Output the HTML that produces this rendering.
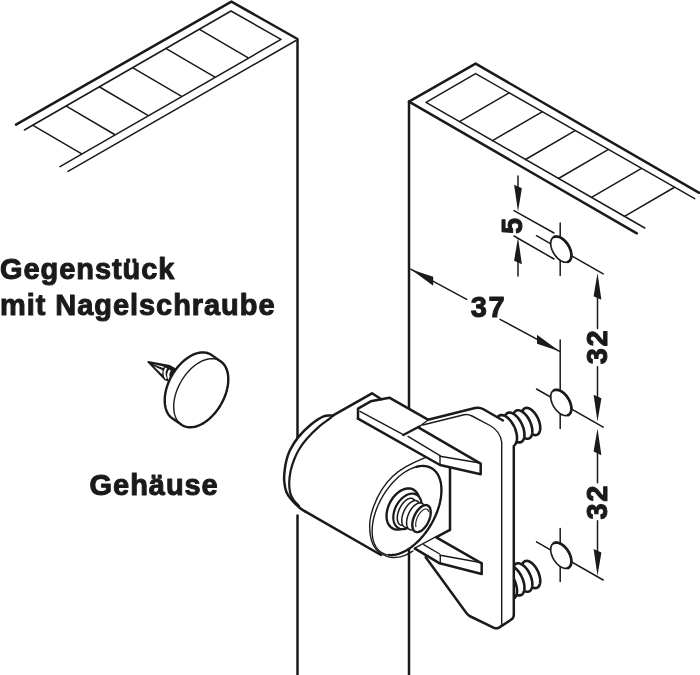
<!DOCTYPE html>
<html><head><meta charset="utf-8"><style>
html,body{margin:0;padding:0;background:#fff;width:700px;height:675px;overflow:hidden}
svg{display:block;will-change:transform}
.l{font-family:"Liberation Sans",sans-serif;font-weight:bold;font-size:29px;letter-spacing:0.95px;fill:#1a1a1a}
.d{font-family:"Liberation Sans",sans-serif;font-weight:bold;font-size:29px;letter-spacing:1.6px;fill:#1a1a1a}
</style></head><body>
<svg width="700" height="675" viewBox="0 0 700 675">
<g stroke="#1a1a1a" fill="none" stroke-linecap="round" stroke-linejoin="round">
<polyline points="16.0,124.6 231.4,1.6 297.5,39.0 297.5,437.6" stroke-width="2.5" fill="none"/>
<line x1="297.5" y1="515.6" x2="297.5" y2="675.0" stroke-width="2.5"/>
<polyline points="24.4,130.0 231.0,11.0 281.0,39.4 60.0,166.6" stroke-width="1.5" fill="none"/>
<line x1="296.0" y1="40.5" x2="68.0" y2="171.4" stroke-width="1.5"/>
<line x1="33.0" y1="125.3" x2="81.3" y2="153.6" stroke-width="1.5"/>
<line x1="66.3" y1="106.2" x2="114.6" y2="134.5" stroke-width="1.5"/>
<line x1="99.6" y1="87.0" x2="147.9" y2="115.3" stroke-width="1.5"/>
<line x1="132.9" y1="67.8" x2="181.2" y2="96.1" stroke-width="1.5"/>
<line x1="166.2" y1="48.6" x2="214.5" y2="76.9" stroke-width="1.5"/>
<line x1="199.5" y1="29.4" x2="247.8" y2="57.7" stroke-width="1.5"/>
<polyline points="409.0,408.5 409.0,101.6 475.6,63.6 699.2,192.8" stroke-width="2.5" fill="none"/>
<line x1="409.0" y1="549.5" x2="409.0" y2="675.0" stroke-width="2.5"/>
<line x1="409.0" y1="101.6" x2="636.8" y2="233.3" stroke-width="2.5"/>
<polyline points="694.7,198.7 475.6,73.6 426.0,102.4 644.8,228.0" stroke-width="1.5" fill="none"/>
<line x1="459.5" y1="121.6" x2="509.1" y2="92.8" stroke-width="1.5"/>
<line x1="492.5" y1="140.6" x2="542.1" y2="111.8" stroke-width="1.5"/>
<line x1="525.5" y1="159.5" x2="575.1" y2="130.7" stroke-width="1.5"/>
<line x1="558.5" y1="178.5" x2="608.1" y2="149.7" stroke-width="1.5"/>
<line x1="591.5" y1="197.4" x2="641.1" y2="168.6" stroke-width="1.5"/>
<line x1="624.5" y1="216.3" x2="674.1" y2="187.5" stroke-width="1.5"/>
<line x1="560.2" y1="223.0" x2="560.2" y2="275.5" stroke-width="1.5"/>
<line x1="536.5" y1="235.7" x2="603.2" y2="273.9" stroke-width="1.5"/>
<path d="M567.95,245.05 L568.47,245.91 L568.94,246.78 L569.38,247.67 L569.77,248.57 L570.13,249.46 L570.43,250.36 L570.70,251.26 L570.91,252.14 L571.08,253.01 L571.20,253.87 L571.27,254.70 L571.28,255.50 L571.25,256.28 L571.17,257.02 L571.04,257.73 L570.86,258.39 L570.63,259.02 L570.36,259.59 L570.04,260.12 L569.67,260.59 L569.26,261.01 L568.82,261.37 L568.33,261.67 L567.81,261.91 L567.26,262.10 L566.67,262.22 L566.06,262.28 L565.42,262.27 L564.76,262.20 L564.09,262.08 L563.39,261.88 L562.69,261.63 L561.98,261.32 L561.26,260.95 L560.54,260.52 L559.83,260.04 L559.12,259.51 L558.42,258.93 L557.73,258.30 L557.06,257.63 L556.40,256.92 L555.77,256.17 L555.17,255.39 L554.59,254.58 L554.05,253.75 L553.53,252.89 L553.06,252.02 L552.62,251.13 L552.23,250.23 L551.87,249.34 L551.57,248.44 L551.30,247.54 L551.09,246.66 L550.92,245.79 L550.80,244.93 L550.73,244.10 L550.72,243.30 L550.75,242.52 L550.83,241.78 L550.96,241.07 L551.14,240.41 L551.37,239.78 L551.64,239.21 L551.96,238.68 L552.33,238.21 L552.74,237.79 L553.18,237.43 L553.67,237.13 L554.19,236.89 L554.74,236.70 L555.33,236.58 L555.94,236.52 L556.58,236.53 L557.24,236.60 L557.91,236.72 L558.61,236.92 L559.31,237.17 L560.02,237.48 L560.74,237.85 L561.46,238.28 L562.17,238.76 L562.88,239.29 L563.58,239.87 L564.27,240.50 L564.94,241.17 L565.60,241.88 L566.23,242.63 L566.83,243.41 L567.41,244.22 L567.95,245.05Z" stroke-width="1.7" fill="#fff" />
<path d="M554.07,236.93 L554.49,236.77 L554.92,236.65 L555.37,236.56 L555.84,236.50 L556.32,236.48 L556.81,236.50 L557.31,236.55 L557.83,236.64 L558.35,236.76 L558.88,236.91 L559.41,237.10 L559.95,237.33 L560.50,237.58 L561.04,237.87 L561.59,238.19 L562.13,238.55 L562.67,238.93 L563.20,239.34 L563.73,239.78 L564.25,240.24 L564.77,240.73 L565.27,241.24 L565.76,241.78 L566.24,242.33 L566.70,242.91 L567.15,243.50 L567.58,244.11 L567.99,244.74 L568.38,245.37 L568.76,246.02 L569.11,246.68 L569.44,247.34 L569.75,248.01 L570.03,248.69 L570.29,249.36 L570.52,250.04 L570.72,250.72 L570.90,251.39 L571.06,252.05 L571.18,252.71 L571.28,253.36 L571.35,254.00 L571.39,254.62 L571.40,255.23 L571.38,255.83 L571.34,256.41 L571.27,256.96 L571.16,257.50 L571.04,258.02 L570.88,258.51 L570.69,258.98 L570.48,259.42 L570.25,259.83 L569.99,260.21 L569.70,260.57 L569.39,260.89 L569.06,261.19 L568.70,261.45 L568.32,261.68 L567.93,261.87" stroke-width="2.7" fill="none" />
<line x1="560.2" y1="339.9" x2="560.2" y2="428.4" stroke-width="1.5"/>
<line x1="536.5" y1="389.0" x2="603.2" y2="427.2" stroke-width="1.5"/>
<path d="M567.95,398.35 L568.47,399.21 L568.94,400.08 L569.38,400.97 L569.77,401.87 L570.13,402.76 L570.43,403.66 L570.70,404.56 L570.91,405.44 L571.08,406.31 L571.20,407.17 L571.27,408.00 L571.28,408.80 L571.25,409.58 L571.17,410.32 L571.04,411.03 L570.86,411.69 L570.63,412.32 L570.36,412.89 L570.04,413.42 L569.67,413.89 L569.26,414.31 L568.82,414.67 L568.33,414.97 L567.81,415.21 L567.26,415.40 L566.67,415.52 L566.06,415.58 L565.42,415.57 L564.76,415.50 L564.09,415.38 L563.39,415.18 L562.69,414.93 L561.98,414.62 L561.26,414.25 L560.54,413.82 L559.83,413.34 L559.12,412.81 L558.42,412.23 L557.73,411.60 L557.06,410.93 L556.40,410.22 L555.77,409.47 L555.17,408.69 L554.59,407.88 L554.05,407.05 L553.53,406.19 L553.06,405.32 L552.62,404.43 L552.23,403.53 L551.87,402.64 L551.57,401.74 L551.30,400.84 L551.09,399.96 L550.92,399.09 L550.80,398.23 L550.73,397.40 L550.72,396.60 L550.75,395.82 L550.83,395.08 L550.96,394.37 L551.14,393.71 L551.37,393.08 L551.64,392.51 L551.96,391.98 L552.33,391.51 L552.74,391.09 L553.18,390.73 L553.67,390.43 L554.19,390.19 L554.74,390.00 L555.33,389.88 L555.94,389.82 L556.58,389.83 L557.24,389.90 L557.91,390.02 L558.61,390.22 L559.31,390.47 L560.02,390.78 L560.74,391.15 L561.46,391.58 L562.17,392.06 L562.88,392.59 L563.58,393.17 L564.27,393.80 L564.94,394.47 L565.60,395.18 L566.23,395.93 L566.83,396.71 L567.41,397.52 L567.95,398.35Z" stroke-width="1.7" fill="#fff" />
<path d="M554.07,390.23 L554.49,390.07 L554.92,389.95 L555.37,389.86 L555.84,389.80 L556.32,389.78 L556.81,389.80 L557.31,389.85 L557.83,389.94 L558.35,390.06 L558.88,390.21 L559.41,390.40 L559.95,390.63 L560.50,390.88 L561.04,391.17 L561.59,391.49 L562.13,391.85 L562.67,392.23 L563.20,392.64 L563.73,393.08 L564.25,393.54 L564.77,394.03 L565.27,394.54 L565.76,395.08 L566.24,395.63 L566.70,396.21 L567.15,396.80 L567.58,397.41 L567.99,398.04 L568.38,398.67 L568.76,399.32 L569.11,399.98 L569.44,400.64 L569.75,401.31 L570.03,401.99 L570.29,402.66 L570.52,403.34 L570.72,404.02 L570.90,404.69 L571.06,405.35 L571.18,406.01 L571.28,406.66 L571.35,407.30 L571.39,407.92 L571.40,408.53 L571.38,409.13 L571.34,409.71 L571.27,410.26 L571.16,410.80 L571.04,411.32 L570.88,411.81 L570.69,412.28 L570.48,412.72 L570.25,413.13 L569.99,413.51 L569.70,413.87 L569.39,414.19 L569.06,414.49 L568.70,414.75 L568.32,414.98 L567.93,415.17" stroke-width="2.7" fill="none" />
<line x1="560.2" y1="528.5" x2="560.2" y2="581.5" stroke-width="1.5"/>
<line x1="536.5" y1="541.8" x2="603.2" y2="580.0" stroke-width="1.5"/>
<path d="M567.95,551.15 L568.47,552.01 L568.94,552.88 L569.38,553.77 L569.77,554.67 L570.13,555.56 L570.43,556.46 L570.70,557.36 L570.91,558.24 L571.08,559.11 L571.20,559.97 L571.27,560.80 L571.28,561.60 L571.25,562.38 L571.17,563.12 L571.04,563.83 L570.86,564.49 L570.63,565.12 L570.36,565.69 L570.04,566.22 L569.67,566.69 L569.26,567.11 L568.82,567.47 L568.33,567.77 L567.81,568.01 L567.26,568.20 L566.67,568.32 L566.06,568.38 L565.42,568.37 L564.76,568.30 L564.09,568.18 L563.39,567.98 L562.69,567.73 L561.98,567.42 L561.26,567.05 L560.54,566.62 L559.83,566.14 L559.12,565.61 L558.42,565.03 L557.73,564.40 L557.06,563.73 L556.40,563.02 L555.77,562.27 L555.17,561.49 L554.59,560.68 L554.05,559.85 L553.53,558.99 L553.06,558.12 L552.62,557.23 L552.23,556.33 L551.87,555.44 L551.57,554.54 L551.30,553.64 L551.09,552.76 L550.92,551.89 L550.80,551.03 L550.73,550.20 L550.72,549.40 L550.75,548.62 L550.83,547.88 L550.96,547.17 L551.14,546.51 L551.37,545.88 L551.64,545.31 L551.96,544.78 L552.33,544.31 L552.74,543.89 L553.18,543.53 L553.67,543.23 L554.19,542.99 L554.74,542.80 L555.33,542.68 L555.94,542.62 L556.58,542.63 L557.24,542.70 L557.91,542.82 L558.61,543.02 L559.31,543.27 L560.02,543.58 L560.74,543.95 L561.46,544.38 L562.17,544.86 L562.88,545.39 L563.58,545.97 L564.27,546.60 L564.94,547.27 L565.60,547.98 L566.23,548.73 L566.83,549.51 L567.41,550.32 L567.95,551.15Z" stroke-width="1.7" fill="#fff" />
<path d="M554.07,543.03 L554.49,542.87 L554.92,542.75 L555.37,542.66 L555.84,542.60 L556.32,542.58 L556.81,542.60 L557.31,542.65 L557.83,542.74 L558.35,542.86 L558.88,543.01 L559.41,543.20 L559.95,543.43 L560.50,543.68 L561.04,543.97 L561.59,544.29 L562.13,544.65 L562.67,545.03 L563.20,545.44 L563.73,545.88 L564.25,546.34 L564.77,546.83 L565.27,547.34 L565.76,547.88 L566.24,548.43 L566.70,549.01 L567.15,549.60 L567.58,550.21 L567.99,550.84 L568.38,551.47 L568.76,552.12 L569.11,552.78 L569.44,553.44 L569.75,554.11 L570.03,554.79 L570.29,555.46 L570.52,556.14 L570.72,556.82 L570.90,557.49 L571.06,558.15 L571.18,558.81 L571.28,559.46 L571.35,560.10 L571.39,560.72 L571.40,561.33 L571.38,561.93 L571.34,562.51 L571.27,563.06 L571.16,563.60 L571.04,564.12 L570.88,564.61 L570.69,565.08 L570.48,565.52 L570.25,565.93 L569.99,566.31 L569.70,566.67 L569.39,566.99 L569.06,567.29 L568.70,567.55 L568.32,567.78 L567.93,567.97" stroke-width="2.7" fill="none" />
<line x1="514.0" y1="210.6" x2="554.0" y2="233.0" stroke-width="1.5"/>
<line x1="514.0" y1="236.0" x2="554.0" y2="259.0" stroke-width="1.5"/>
<line x1="518.0" y1="176.0" x2="518.0" y2="200.0" stroke-width="1.5"/>
<polygon points="518.0,211.5 521.9,188.3 514.1,184.7" fill="#1a1a1a" stroke="none"/>
<line x1="518.0" y1="250.0" x2="518.0" y2="276.0" stroke-width="1.5"/>
<polygon points="518.0,237.5 521.9,264.3 514.1,260.7" fill="#1a1a1a" stroke="none"/>
<text x="0" y="0" transform="translate(521.8,225.2) rotate(-90) scale(1,1.04)" text-anchor="middle" class="d">5</text>
<line x1="410.7" y1="269.2" x2="466.7" y2="299.3" stroke-width="1.5"/>
<line x1="500.0" y1="319.3" x2="559.5" y2="351.3" stroke-width="1.5"/>
<polygon points="410.7,269.2 433.2,285.8 433.2,276.8" fill="#1a1a1a" stroke="none"/>
<polygon points="559.5,351.3 537.0,343.7 537.0,334.7" fill="#1a1a1a" stroke="none"/>
<text transform="translate(470.8,317.2) scale(1,1.04)" class="d">37</text>
<line x1="597.5" y1="285.0" x2="597.5" y2="328.5" stroke-width="1.5"/>
<polygon points="597.5,273.0 601.4,299.8 593.6,296.2" fill="#1a1a1a" stroke="none"/>
<line x1="597.5" y1="366.7" x2="597.5" y2="410.0" stroke-width="1.5"/>
<polygon points="597.5,421.5 601.4,398.3 593.6,394.7" fill="#1a1a1a" stroke="none"/>
<text x="0" y="0" transform="translate(606.7,346.6) rotate(-90) scale(1,1.04)" text-anchor="middle" class="d">32</text>
<line x1="597.5" y1="440.0" x2="597.5" y2="482.7" stroke-width="1.5"/>
<polygon points="597.5,428.4 601.4,455.2 593.6,451.6" fill="#1a1a1a" stroke="none"/>
<line x1="597.5" y1="520.7" x2="597.5" y2="560.0" stroke-width="1.5"/>
<polygon points="597.5,575.8 601.4,552.6 593.6,549.0" fill="#1a1a1a" stroke="none"/>
<text x="0" y="0" transform="translate(607.3,501.8) rotate(-90) scale(1,1.04)" text-anchor="middle" class="d">32</text>
<path d="M148.2,361.9 L169.7,365.9 L177,370 L172,382 L165.2,379.6 Z" fill="#1a1a1a" stroke="#1a1a1a" stroke-width="1.6"/>
<path d="M152.5,364 L163.5,366.6 L163.8,368.3 Z" fill="#fff" stroke="none"/>
<path d="M153.5,366 L162.6,370.3 L162.2,374.6 Z" fill="#fff" stroke="none"/>
<path d="M166.2,368 Q162.8,373.5 166.2,378.8" stroke="#fff" stroke-width="2" stroke-linecap="butt"/>
<path d="M169.9,370.2 Q166.5,375 169.9,380" stroke="#fff" stroke-width="2.2" stroke-linecap="butt"/>
<path d="M164.71,400.18 L164.74,398.93 L164.81,397.67 L164.92,396.38 L165.08,395.08 L165.27,393.77 L165.51,392.45 L165.78,391.12 L166.10,389.78 L166.46,388.44 L166.86,387.09 L167.29,385.75 L167.77,384.40 L168.28,383.06 L168.83,381.72 L169.41,380.39 L170.03,379.08 L170.68,377.77 L171.37,376.48 L172.08,375.20 L172.83,373.94 L173.61,372.70 L174.41,371.48 L175.24,370.29 L176.10,369.12 L176.99,367.98 L177.89,366.86 L178.82,365.78 L179.77,364.73 L180.74,363.71 L181.72,362.73 L182.72,361.79 L183.73,360.88 L184.76,360.02 L185.80,359.19 L186.85,358.41 L187.90,357.67 L188.97,356.98 L190.03,356.33 L191.10,355.73 L192.17,355.17 L193.25,354.67 L194.31,354.21 L195.38,353.81 L196.44,353.45 L197.49,353.15 L198.54,352.90 L199.57,352.70 L200.60,352.55 L201.61,352.45 L202.60,352.41 L203.58,352.43 L204.54,352.49 L205.49,352.61 L206.41,352.77 L207.30,353.00 L208.18,353.27 L209.03,353.60 L209.85,353.97 L210.65,354.40 L211.42,354.87 L220.42,361.17 L221.16,361.70 L221.86,362.27 L222.54,362.89 L223.18,363.56 L223.78,364.27 L224.36,365.03 L224.89,365.83 L225.39,366.67 L225.85,367.56 L226.28,368.48 L226.66,369.44 L227.00,370.44 L227.31,371.47 L227.57,372.53 L227.80,373.63 L227.98,374.75 L228.12,375.90 L228.22,377.09 L228.27,378.29 L228.29,379.52 L228.26,380.77 L228.19,382.03 L228.08,383.32 L227.92,384.62 L227.73,385.93 L227.49,387.25 L227.22,388.58 L226.90,389.92 L226.54,391.26 L226.14,392.61 L225.71,393.95 L225.23,395.30 L224.72,396.64 L224.17,397.98 L223.59,399.31 L222.97,400.62 L222.32,401.93 L221.63,403.22 L220.92,404.50 L220.17,405.76 L219.39,407.00 L218.59,408.22 L217.76,409.41 L216.90,410.58 L216.01,411.72 L215.11,412.84 L214.18,413.92 L213.23,414.97 L212.26,415.99 L211.28,416.97 L210.28,417.91 L209.27,418.82 L208.24,419.68 L207.20,420.51 L206.15,421.29 L205.10,422.03 L204.03,422.72 L202.97,423.37 L201.90,423.97 L200.83,424.53 L199.75,425.03 L198.69,425.49 L197.62,425.89 L196.56,426.25 L195.51,426.55 L194.46,426.80 L193.43,427.00 L192.40,427.15 L191.39,427.25 L190.40,427.29 L189.42,427.27 L188.46,427.21 L187.51,427.10 L186.59,426.93 L185.70,426.70 L184.82,426.43 L183.97,426.11 L183.15,425.73 L182.35,425.30 L181.58,424.83 L172.58,418.53 L171.84,418.00 L171.14,417.43 L170.46,416.81 L169.82,416.14 L169.22,415.43 L168.64,414.67 L168.11,413.87 L167.61,413.03 L167.15,412.14 L166.72,411.22 L166.34,410.26 L166.00,409.26 L165.69,408.23 L165.43,407.17 L165.20,406.07 L165.02,404.95 L164.88,403.80 L164.78,402.61 L164.73,401.41Z" stroke-width="2.4" fill="#fff" />
<path d="M220.92,404.50 L220.17,405.76 L219.39,407.00 L218.59,408.22 L217.76,409.41 L216.90,410.58 L216.01,411.72 L215.11,412.84 L214.18,413.92 L213.23,414.97 L212.27,415.99 L211.28,416.97 L210.28,417.91 L209.27,418.82 L208.24,419.68 L207.20,420.51 L206.15,421.29 L205.10,422.03 L204.03,422.72 L202.97,423.37 L201.90,423.97 L200.83,424.53 L199.75,425.03 L198.69,425.49 L197.62,425.89 L196.56,426.25 L195.51,426.55 L194.46,426.80 L193.43,427.00 L192.40,427.15 L191.39,427.24 L190.40,427.29 L189.42,427.28 L188.46,427.21 L187.52,427.09 L186.59,426.93 L185.70,426.70 L184.82,426.43 L183.97,426.11 L183.15,425.73 L182.35,425.30 L181.58,424.83 L180.84,424.30 L180.14,423.73 L179.46,423.11 L178.82,422.44 L178.22,421.73 L177.64,420.97 L177.11,420.17 L176.61,419.33 L176.15,418.44 L175.72,417.52 L175.34,416.56 L175.00,415.56 L174.69,414.53 L174.43,413.47 L174.20,412.37 L174.02,411.25 L173.88,410.09 L173.78,408.91 L173.73,407.71 L173.71,406.48 L173.74,405.23 L173.81,403.97 L173.92,402.68 L174.08,401.38 L174.27,400.07 L174.51,398.75 L174.79,397.42 L175.10,396.08 L175.46,394.74 L175.86,393.39 L176.29,392.04 L176.77,390.70 L177.28,389.36 L177.83,388.02 L178.41,386.69 L179.03,385.38 L179.68,384.07 L180.36,382.78 L181.08,381.50 L181.83,380.24 L182.61,379.00 L183.41,377.78 L184.24,376.59 L185.10,375.42 L185.99,374.28 L186.89,373.16 L187.82,372.08 L188.77,371.03 L189.73,370.01 L190.72,369.03 L191.72,368.09 L192.73,367.18 L193.76,366.32 L194.80,365.49 L195.85,364.71 L196.90,363.97 L197.97,363.28 L199.03,362.63 L200.10,362.03 L201.17,361.47 L202.25,360.97 L203.31,360.51 L204.38,360.11 L205.44,359.75 L206.49,359.45 L207.54,359.20 L208.57,359.00 L209.60,358.85 L210.61,358.76 L211.60,358.71 L212.58,358.72 L213.54,358.79 L214.48,358.91 L215.41,359.07 L216.30,359.30 L217.18,359.57 L218.03,359.89 L218.85,360.27 L219.65,360.70 L220.42,361.17 L221.16,361.70 L221.86,362.27 L222.54,362.89 L223.18,363.56 L223.78,364.27 L224.36,365.03 L224.89,365.83 L225.39,366.67 L225.85,367.56 L226.28,368.48 L226.66,369.44 L227.00,370.44 L227.31,371.47 L227.57,372.53 L227.80,373.63 L227.98,374.75 L228.12,375.91 L228.22,377.09 L228.27,378.29 L228.29,379.52 L228.26,380.77 L228.19,382.03 L228.08,383.32 L227.92,384.62 L227.73,385.93 L227.49,387.25 L227.21,388.58 L226.90,389.92 L226.54,391.26 L226.14,392.61 L225.71,393.96 L225.23,395.30 L224.72,396.64 L224.17,397.98 L223.59,399.31 L222.97,400.62 L222.32,401.93 L221.64,403.22 L220.92,404.50Z" stroke-width="1.4" fill="none" />
<path d="M537.89,418.29 L538.35,419.34 L538.77,420.40 L539.14,421.47 L539.46,422.53 L539.72,423.60 L539.94,424.65 L540.10,425.68 L540.20,426.68 L540.24,427.65 L540.23,428.59 L540.17,429.48 L540.04,430.32 L539.86,431.10 L539.62,431.83 L539.34,432.50 L539.00,433.09 L538.61,433.62 L538.17,434.07 L537.69,434.44 L537.17,434.73 L536.61,434.94 L536.02,435.07 L535.39,435.12 L534.74,435.08 L534.06,434.95 L533.37,434.75 L532.66,434.46 L531.94,434.09 L531.22,433.65 L530.49,433.13 L529.77,432.54 L529.05,431.88 L528.35,431.15 L527.66,430.37 L527.00,429.53 L526.36,428.64 L525.74,427.71 L525.16,426.74 L524.62,425.74 L524.11,424.71 L523.65,423.66 L523.23,422.60 L522.86,421.53 L522.54,420.47 L522.28,419.40 L522.06,418.35 L521.90,417.32 L521.80,416.32 L521.76,415.35 L521.77,414.41 L521.83,413.52 L521.96,412.68 L522.14,411.90 L522.38,411.17 L522.66,410.50 L523.00,409.91 L523.39,409.38 L523.83,408.93 L524.31,408.56 L524.83,408.27 L525.39,408.06 L525.98,407.93 L526.61,407.88 L527.26,407.92 L527.94,408.05 L528.63,408.25 L529.34,408.54 L530.06,408.91 L530.78,409.35 L531.51,409.87 L532.23,410.46 L532.95,411.12 L533.65,411.85 L534.34,412.63 L535.00,413.47 L535.64,414.36 L536.26,415.29 L536.84,416.26 L537.38,417.26 L537.89,418.29Z" stroke-width="2.6" fill="#fff" />
<path d="M529.86,421.16 L530.35,422.26 L530.78,423.37 L531.17,424.49 L531.51,425.61 L531.79,426.72 L532.01,427.82 L532.18,428.90 L532.29,429.95 L532.34,430.97 L532.33,431.94 L532.27,432.88 L532.14,433.76 L531.95,434.58 L531.71,435.34 L531.41,436.03 L531.06,436.66 L530.66,437.20 L530.21,437.67 L529.71,438.06 L529.17,438.37 L528.58,438.59 L527.97,438.72 L527.32,438.76 L526.64,438.72 L525.93,438.59 L525.21,438.37 L524.47,438.07 L523.72,437.68 L522.97,437.21 L522.21,436.67 L521.45,436.04 L520.71,435.35 L519.97,434.59 L519.26,433.77 L518.56,432.89 L517.89,431.96 L517.25,430.98 L516.64,429.97 L516.07,428.92 L515.54,427.84 L515.05,426.74 L514.62,425.63 L514.23,424.51 L513.89,423.39 L513.61,422.28 L513.39,421.18 L513.22,420.10 L513.11,419.05 L513.06,418.03 L513.07,417.06 L513.13,416.12 L513.26,415.24 L513.45,414.42 L513.69,413.66 L513.99,412.97 L514.34,412.34 L514.74,411.80 L515.19,411.33 L515.69,410.94 L516.23,410.63 L516.82,410.41 L517.43,410.28 L518.08,410.24 L518.76,410.28 L519.47,410.41 L520.19,410.63 L520.93,410.93 L521.68,411.32 L522.43,411.79 L523.19,412.33 L523.95,412.96 L524.69,413.65 L525.43,414.41 L526.14,415.23 L526.84,416.11 L527.51,417.04 L528.15,418.02 L528.76,419.03 L529.33,420.08 L529.86,421.16Z" stroke-width="2.6" fill="#fff" />
<path d="M521.83,424.03 L522.34,425.18 L522.80,426.35 L523.20,427.52 L523.56,428.69 L523.85,429.85 L524.09,431.00 L524.27,432.12 L524.39,433.22 L524.44,434.28 L524.44,435.30 L524.37,436.28 L524.24,437.19 L524.05,438.05 L523.80,438.85 L523.49,439.57 L523.13,440.22 L522.71,440.79 L522.24,441.28 L521.72,441.68 L521.16,442.00 L520.56,442.23 L519.92,442.36 L519.24,442.41 L518.53,442.36 L517.80,442.22 L517.05,441.99 L516.28,441.67 L515.50,441.27 L514.72,440.78 L513.93,440.20 L513.14,439.55 L512.36,438.83 L511.60,438.03 L510.85,437.17 L510.12,436.25 L509.42,435.28 L508.75,434.25 L508.12,433.19 L507.52,432.09 L506.97,430.97 L506.46,429.82 L506.00,428.65 L505.60,427.48 L505.24,426.31 L504.95,425.15 L504.71,424.00 L504.53,422.88 L504.41,421.78 L504.36,420.72 L504.36,419.70 L504.43,418.72 L504.56,417.81 L504.75,416.95 L505.00,416.15 L505.31,415.43 L505.67,414.78 L506.09,414.21 L506.56,413.72 L507.08,413.32 L507.64,413.00 L508.24,412.77 L508.88,412.64 L509.56,412.59 L510.27,412.64 L511.00,412.78 L511.75,413.01 L512.52,413.33 L513.30,413.73 L514.08,414.22 L514.87,414.80 L515.66,415.45 L516.44,416.17 L517.20,416.97 L517.95,417.83 L518.68,418.75 L519.38,419.72 L520.05,420.75 L520.68,421.81 L521.28,422.91 L521.83,424.03Z" stroke-width="2.6" fill="#fff" />
<path d="M514.30,426.91 L514.83,428.10 L515.31,429.31 L515.73,430.52 L516.09,431.73 L516.40,432.94 L516.65,434.13 L516.83,435.30 L516.96,436.44 L517.01,437.54 L517.01,438.60 L516.94,439.61 L516.80,440.56 L516.61,441.45 L516.35,442.27 L516.03,443.02 L515.65,443.70 L515.22,444.29 L514.73,444.80 L514.20,445.22 L513.62,445.54 L512.99,445.78 L512.32,445.92 L511.62,445.97 L510.89,445.92 L510.13,445.77 L509.35,445.54 L508.56,445.20 L507.75,444.78 L506.93,444.27 L506.11,443.68 L505.30,443.00 L504.49,442.25 L503.70,441.42 L502.92,440.53 L502.17,439.58 L501.44,438.57 L500.75,437.51 L500.09,436.40 L499.47,435.26 L498.90,434.09 L498.37,432.90 L497.89,431.69 L497.47,430.48 L497.11,429.27 L496.80,428.06 L496.55,426.87 L496.37,425.70 L496.24,424.56 L496.19,423.46 L496.19,422.40 L496.26,421.39 L496.40,420.44 L496.59,419.55 L496.85,418.73 L497.17,417.98 L497.55,417.30 L497.98,416.71 L498.47,416.20 L499.00,415.78 L499.58,415.46 L500.21,415.22 L500.88,415.08 L501.58,415.03 L502.31,415.08 L503.07,415.23 L503.85,415.46 L504.64,415.80 L505.45,416.22 L506.27,416.73 L507.09,417.32 L507.90,418.00 L508.71,418.75 L509.50,419.58 L510.28,420.47 L511.03,421.42 L511.76,422.43 L512.45,423.49 L513.11,424.60 L513.73,425.74 L514.30,426.91Z" stroke-width="2.6" fill="#fff" />
<path d="M537.89,571.29 L538.35,572.34 L538.77,573.40 L539.14,574.47 L539.46,575.53 L539.72,576.60 L539.94,577.65 L540.10,578.68 L540.20,579.68 L540.24,580.65 L540.23,581.59 L540.17,582.48 L540.04,583.32 L539.86,584.10 L539.62,584.83 L539.34,585.50 L539.00,586.09 L538.61,586.62 L538.17,587.07 L537.69,587.44 L537.17,587.73 L536.61,587.94 L536.02,588.07 L535.39,588.12 L534.74,588.08 L534.06,587.95 L533.37,587.75 L532.66,587.46 L531.94,587.09 L531.22,586.65 L530.49,586.13 L529.77,585.54 L529.05,584.88 L528.35,584.15 L527.66,583.37 L527.00,582.53 L526.36,581.64 L525.74,580.71 L525.16,579.74 L524.62,578.74 L524.11,577.71 L523.65,576.66 L523.23,575.60 L522.86,574.53 L522.54,573.47 L522.28,572.40 L522.06,571.35 L521.90,570.32 L521.80,569.32 L521.76,568.35 L521.77,567.41 L521.83,566.52 L521.96,565.68 L522.14,564.90 L522.38,564.17 L522.66,563.50 L523.00,562.91 L523.39,562.38 L523.83,561.93 L524.31,561.56 L524.83,561.27 L525.39,561.06 L525.98,560.93 L526.61,560.88 L527.26,560.92 L527.94,561.05 L528.63,561.25 L529.34,561.54 L530.06,561.91 L530.78,562.35 L531.51,562.87 L532.23,563.46 L532.95,564.12 L533.65,564.85 L534.34,565.63 L535.00,566.47 L535.64,567.36 L536.26,568.29 L536.84,569.26 L537.38,570.26 L537.89,571.29Z" stroke-width="2.6" fill="#fff" />
<path d="M529.86,574.16 L530.35,575.26 L530.78,576.37 L531.17,577.49 L531.51,578.61 L531.79,579.72 L532.01,580.82 L532.18,581.90 L532.29,582.95 L532.34,583.97 L532.33,584.94 L532.27,585.88 L532.14,586.76 L531.95,587.58 L531.71,588.34 L531.41,589.03 L531.06,589.66 L530.66,590.20 L530.21,590.67 L529.71,591.06 L529.17,591.37 L528.58,591.59 L527.97,591.72 L527.32,591.76 L526.64,591.72 L525.93,591.59 L525.21,591.37 L524.47,591.07 L523.72,590.68 L522.97,590.21 L522.21,589.67 L521.45,589.04 L520.71,588.35 L519.97,587.59 L519.26,586.77 L518.56,585.89 L517.89,584.96 L517.25,583.98 L516.64,582.97 L516.07,581.92 L515.54,580.84 L515.05,579.74 L514.62,578.63 L514.23,577.51 L513.89,576.39 L513.61,575.28 L513.39,574.18 L513.22,573.10 L513.11,572.05 L513.06,571.03 L513.07,570.06 L513.13,569.12 L513.26,568.24 L513.45,567.42 L513.69,566.66 L513.99,565.97 L514.34,565.34 L514.74,564.80 L515.19,564.33 L515.69,563.94 L516.23,563.63 L516.82,563.41 L517.43,563.28 L518.08,563.24 L518.76,563.28 L519.47,563.41 L520.19,563.63 L520.93,563.93 L521.68,564.32 L522.43,564.79 L523.19,565.33 L523.95,565.96 L524.69,566.65 L525.43,567.41 L526.14,568.23 L526.84,569.11 L527.51,570.04 L528.15,571.02 L528.76,572.03 L529.33,573.08 L529.86,574.16Z" stroke-width="2.6" fill="#fff" />
<path d="M521.83,577.03 L522.34,578.18 L522.80,579.35 L523.20,580.52 L523.56,581.69 L523.85,582.85 L524.09,584.00 L524.27,585.12 L524.39,586.22 L524.44,587.28 L524.44,588.30 L524.37,589.28 L524.24,590.19 L524.05,591.05 L523.80,591.85 L523.49,592.57 L523.13,593.22 L522.71,593.79 L522.24,594.28 L521.72,594.68 L521.16,595.00 L520.56,595.23 L519.92,595.36 L519.24,595.41 L518.53,595.36 L517.80,595.22 L517.05,594.99 L516.28,594.67 L515.50,594.27 L514.72,593.78 L513.93,593.20 L513.14,592.55 L512.36,591.83 L511.60,591.03 L510.85,590.17 L510.12,589.25 L509.42,588.28 L508.75,587.25 L508.12,586.19 L507.52,585.09 L506.97,583.97 L506.46,582.82 L506.00,581.65 L505.60,580.48 L505.24,579.31 L504.95,578.15 L504.71,577.00 L504.53,575.88 L504.41,574.78 L504.36,573.72 L504.36,572.70 L504.43,571.72 L504.56,570.81 L504.75,569.95 L505.00,569.15 L505.31,568.43 L505.67,567.78 L506.09,567.21 L506.56,566.72 L507.08,566.32 L507.64,566.00 L508.24,565.77 L508.88,565.64 L509.56,565.59 L510.27,565.64 L511.00,565.78 L511.75,566.01 L512.52,566.33 L513.30,566.73 L514.08,567.22 L514.87,567.80 L515.66,568.45 L516.44,569.17 L517.20,569.97 L517.95,570.83 L518.68,571.75 L519.38,572.72 L520.05,573.75 L520.68,574.81 L521.28,575.91 L521.83,577.03Z" stroke-width="2.6" fill="#fff" />
<path d="M514.30,579.91 L514.83,581.10 L515.31,582.31 L515.73,583.52 L516.09,584.73 L516.40,585.94 L516.65,587.13 L516.83,588.30 L516.96,589.44 L517.01,590.54 L517.01,591.60 L516.94,592.61 L516.80,593.56 L516.61,594.45 L516.35,595.27 L516.03,596.02 L515.65,596.70 L515.22,597.29 L514.73,597.80 L514.20,598.22 L513.62,598.54 L512.99,598.78 L512.32,598.92 L511.62,598.97 L510.89,598.92 L510.13,598.77 L509.35,598.54 L508.56,598.20 L507.75,597.78 L506.93,597.27 L506.11,596.68 L505.30,596.00 L504.49,595.25 L503.70,594.42 L502.92,593.53 L502.17,592.58 L501.44,591.57 L500.75,590.51 L500.09,589.40 L499.47,588.26 L498.90,587.09 L498.37,585.90 L497.89,584.69 L497.47,583.48 L497.11,582.27 L496.80,581.06 L496.55,579.87 L496.37,578.70 L496.24,577.56 L496.19,576.46 L496.19,575.40 L496.26,574.39 L496.40,573.44 L496.59,572.55 L496.85,571.73 L497.17,570.98 L497.55,570.30 L497.98,569.71 L498.47,569.20 L499.00,568.78 L499.58,568.46 L500.21,568.22 L500.88,568.08 L501.58,568.03 L502.31,568.08 L503.07,568.23 L503.85,568.46 L504.64,568.80 L505.45,569.22 L506.27,569.73 L507.09,570.32 L507.90,571.00 L508.71,571.75 L509.50,572.58 L510.28,573.47 L511.03,574.42 L511.76,575.43 L512.45,576.49 L513.11,577.60 L513.73,578.74 L514.30,579.91Z" stroke-width="2.6" fill="#fff" />
<path d="M428.00,419.70 L476.00,407.80 L480.00,408.00 L503.00,420.50 L513.80,428.00 L513.80,615.50 L512.50,618.50 L498.50,628.20 L495.50,628.40 L470.00,616.20 L466.00,612.00 L425.70,557.30 L425.70,430.00Z" fill="#fff" stroke="none"/>
<path d="M428,419.7 L475,408 Q479.5,407 483,409 L503,420.5" stroke-width="2.5" fill="none" />
<path d="M513.8,446 L513.8,615 Q513.8,618 511,619.8 L499,627.6 Q496.5,629 494,627.8 L469.5,616 Q467.5,614.5 466,612.5 L425.7,557.3" stroke-width="2.5" fill="none" />
<path d="M422.7,425 L464,414.8 Q468,414 472,416 L490,425.5 Q500,431 501.7,442 L501.7,625.5" stroke-width="1.4" fill="none" />
<path d="M332.70,415.70 L323.60,416.30 L310.70,424.70 L297.90,437.60 L290.10,450.00 L286.50,460.00 L284.60,471.00 L284.20,481.00 L286.30,491.70 L291.30,499.40 L300.20,508.30 L305.50,511.60 L381.00,555.00 L396.00,557.00 L409.00,549.00 L450.00,530.00 L450.00,467.00 L425.50,457.30 L372.00,393.30Z" fill="#fff" stroke="none"/>
<path d="M332.70,415.70 C331.18,415.80 327.27,414.80 323.60,416.30 C319.93,417.80 314.98,421.15 310.70,424.70 C306.42,428.25 301.33,433.38 297.90,437.60 C294.47,441.82 292.00,446.27 290.10,450.00 C288.20,453.73 287.42,456.50 286.50,460.00 C285.58,463.50 284.98,467.50 284.60,471.00 C284.22,474.50 283.92,477.55 284.20,481.00 C284.48,484.45 285.12,488.63 286.30,491.70 C287.48,494.77 288.98,496.63 291.30,499.40 C293.62,502.17 297.83,506.27 300.20,508.30 C302.57,510.33 304.62,511.05 305.50,511.60" stroke-width="2.5" fill="none" />
<path d="M332.70,415.70 C332.18,416.20 331.83,416.92 329.60,418.70 C327.37,420.48 323.17,422.97 319.30,426.40 C315.43,429.83 309.83,435.37 306.40,439.30 C302.97,443.23 300.77,446.55 298.70,450.00 C296.63,453.45 295.35,456.50 294.00,460.00 C292.65,463.50 291.40,467.20 290.60,471.00 C289.80,474.80 289.27,479.17 289.20,482.80 C289.13,486.43 289.57,490.10 290.20,492.80 C290.83,495.50 291.53,496.80 293.00,499.00 C294.47,501.20 298.00,504.83 299.00,506.00" stroke-width="2.2" fill="none" />
<line x1="305.5" y1="511.6" x2="381.0" y2="555.0" stroke-width="2.5"/>
<polyline points="332.7,415.7 372.0,393.3 381.3,399.3 390.0,404.0" stroke-width="2.5" fill="none"/>
<line x1="450.0" y1="467.5" x2="450.0" y2="530.0" stroke-width="2.5"/>
<line x1="449.9" y1="529.9" x2="415.0" y2="548.7" stroke-width="2.5"/>
<path d="M425.50,457.30 C422.25,458.85 411.50,463.40 406.00,466.60 C400.50,469.80 396.53,472.65 392.50,476.50 C388.47,480.35 384.88,484.87 381.80,489.70 C378.72,494.53 375.97,500.37 374.00,505.50 C372.03,510.63 370.62,515.58 370.00,520.50 C369.38,525.42 369.72,530.83 370.30,535.00 C370.88,539.17 371.97,542.58 373.50,545.50 C375.03,548.42 377.17,550.65 379.50,552.50 C381.83,554.35 384.75,555.78 387.50,556.60 C390.25,557.42 393.08,557.62 396.00,557.40 C398.92,557.18 402.17,556.37 405.00,555.30 C407.83,554.23 411.67,551.72 413.00,551.00" stroke-width="1.4" fill="none" />
<path d="M430.93,524.71 L429.93,526.36 L428.90,527.98 L427.84,529.57 L426.74,531.14 L425.61,532.67 L424.45,534.17 L423.27,535.64 L422.06,537.06 L420.83,538.45 L419.57,539.79 L418.30,541.08 L417.01,542.33 L415.70,543.53 L414.38,544.68 L413.04,545.77 L411.70,546.81 L410.35,547.80 L408.99,548.73 L407.63,549.59 L406.27,550.40 L404.91,551.15 L403.56,551.83 L402.21,552.45 L400.86,553.01 L399.53,553.50 L398.20,553.92 L396.89,554.28 L395.59,554.57 L394.32,554.79 L393.06,554.94 L391.82,555.03 L390.60,555.04 L389.41,554.99 L388.25,554.87 L387.12,554.68 L386.01,554.42 L384.94,554.10 L383.90,553.70 L382.90,553.25 L381.93,552.72 L381.00,552.13 L380.11,551.47 L379.27,550.76 L378.46,549.98 L377.70,549.14 L376.99,548.24 L376.32,547.28 L375.69,546.26 L375.12,545.19 L374.59,544.07 L374.11,542.89 L373.69,541.67 L373.31,540.39 L372.99,539.07 L372.72,537.71 L372.50,536.30 L372.33,534.86 L372.22,533.37 L372.16,531.86 L372.16,530.31 L372.20,528.72 L372.30,527.11 L372.46,525.48 L372.66,523.82 L372.92,522.14 L373.24,520.44 L373.60,518.73 L374.01,517.01 L374.48,515.27 L374.99,513.53 L375.56,511.78 L376.17,510.03 L376.83,508.28 L377.54,506.54 L378.29,504.80 L379.08,503.07 L379.92,501.35 L380.80,499.65 L381.72,497.96 L382.67,496.29 L383.67,494.64 L384.70,493.02 L385.76,491.43 L386.86,489.86 L387.99,488.33 L389.15,486.83 L390.33,485.36 L391.54,483.94 L392.77,482.55 L394.03,481.21 L395.30,479.92 L396.59,478.67 L397.90,477.47 L399.22,476.32 L400.56,475.23 L401.90,474.19 L403.25,473.20 L404.61,472.27 L405.97,471.41 L407.33,470.60 L408.69,469.85 L410.04,469.17 L411.39,468.55 L412.74,467.99 L414.07,467.50 L415.40,467.08 L416.71,466.72 L418.01,466.43 L419.28,466.21 L420.54,466.06 L421.78,465.97 L423.00,465.96 L424.19,466.01 L425.35,466.13 L426.48,466.32 L427.59,466.58 L428.66,466.90 L429.70,467.30 L430.70,467.75 L431.67,468.28 L432.60,468.87 L433.49,469.53 L434.33,470.24 L435.14,471.02 L435.90,471.86 L436.61,472.76 L437.28,473.72 L437.91,474.74 L438.48,475.81 L439.01,476.93 L439.49,478.11 L439.91,479.33 L440.29,480.61 L440.61,481.93 L440.88,483.29 L441.10,484.70 L441.27,486.14 L441.38,487.63 L441.44,489.14 L441.44,490.69 L441.40,492.28 L441.30,493.89 L441.14,495.52 L440.94,497.18 L440.68,498.86 L440.36,500.56 L440.00,502.27 L439.59,503.99 L439.12,505.73 L438.61,507.47 L438.04,509.22 L437.43,510.97 L436.77,512.72 L436.06,514.46 L435.31,516.20 L434.52,517.93 L433.68,519.65 L432.80,521.35 L431.88,523.04 L430.93,524.71Z" stroke-width="1.4" fill="#fff" />
<path d="M416.27,466.83 L417.40,466.56 L418.52,466.33 L419.62,466.16 L420.71,466.04 L421.78,465.97 L422.84,465.95 L423.87,465.99 L424.89,466.07 L425.88,466.21 L426.86,466.40 L427.81,466.64 L428.73,466.93 L429.63,467.27 L430.51,467.66 L431.35,468.10 L432.17,468.59 L432.96,469.12 L433.72,469.71 L434.44,470.34 L435.14,471.02 L435.80,471.75 L436.43,472.52 L437.02,473.33 L437.58,474.19 L438.10,475.09 L438.59,476.03 L439.04,477.01 L439.46,478.03 L439.83,479.08 L440.17,480.18 L440.47,481.31 L440.73,482.47 L440.95,483.66 L441.13,484.89 L441.27,486.14 L441.37,487.43 L441.43,488.74 L441.45,490.07 L441.43,491.43 L441.37,492.81 L441.27,494.21 L441.13,495.63 L440.95,497.07 L440.73,498.52 L440.47,499.99 L440.18,501.47 L439.84,502.96 L439.47,504.46 L439.06,505.96 L438.61,507.47 L438.12,508.99 L437.60,510.50 L437.04,512.02 L436.45,513.53 L435.82,515.04 L435.16,516.55 L434.46,518.05 L433.74,519.54 L432.98,521.02 L432.19,522.48 L431.38,523.94 L430.53,525.37 L429.66,526.79 L428.76,528.19 L427.84,529.57 L426.89,530.93 L425.91,532.27 L424.92,533.58 L423.90,534.86 L422.87,536.12 L421.81,537.34 L420.74,538.54 L419.66,539.70 L418.55,540.83 L417.44,541.92 L416.31,542.98 L415.17,543.99 L414.02,544.97 L412.86,545.91 L411.70,546.81 L410.53,547.67 L409.36,548.48 L408.18,549.25 L407.00,549.98 L405.82,550.66 L404.64,551.29 L403.47,551.88 L402.30,552.41 L401.13,552.90 L399.97,553.34 L398.82,553.73 L397.67,554.07 L396.54,554.36 L395.42,554.60 L394.32,554.79 L393.22,554.93 L392.15,555.01 L391.09,555.05 L390.04,555.03 L389.02,554.96" stroke-width="2.3" fill="none" />
<path d="M415.80,515.81 L415.05,517.15 L414.24,518.44 L413.38,519.70 L412.46,520.90 L411.50,522.04 L410.49,523.12 L409.46,524.13 L408.38,525.07 L407.29,525.92 L406.17,526.70 L405.03,527.39 L403.89,527.99 L402.74,528.50 L401.60,528.91 L400.46,529.23 L399.33,529.44 L398.22,529.56 L397.13,529.58 L396.08,529.49 L395.05,529.31 L394.07,529.03 L393.12,528.65 L392.23,528.18 L391.39,527.61 L390.61,526.95 L389.88,526.20 L389.22,525.37 L388.63,524.46 L388.10,523.47 L387.65,522.42 L387.28,521.30 L386.98,520.12 L386.76,518.88 L386.62,517.60 L386.55,516.27 L386.57,514.91 L386.67,513.52 L386.85,512.11 L387.10,510.68 L387.44,509.25 L387.85,507.81 L388.33,506.38 L388.88,504.96 L389.51,503.56 L390.20,502.19 L390.95,500.85 L391.76,499.56 L392.62,498.30 L393.54,497.10 L394.50,495.96 L395.51,494.88 L396.54,493.87 L397.62,492.93 L398.71,492.08 L399.83,491.30 L400.97,490.61 L402.11,490.01 L403.26,489.50 L404.40,489.09 L405.54,488.77 L406.67,488.56 L407.78,488.44 L408.87,488.42 L409.92,488.51 L410.95,488.69 L411.93,488.97 L412.88,489.35 L413.77,489.82 L414.61,490.39 L415.39,491.05 L416.12,491.80 L416.78,492.63 L417.37,493.54 L417.90,494.53 L418.35,495.58 L418.72,496.70 L419.02,497.88 L419.24,499.12 L419.38,500.40 L419.45,501.73 L419.43,503.09 L419.33,504.48 L419.15,505.89 L418.90,507.32 L418.56,508.75 L418.15,510.19 L417.67,511.62 L417.12,513.04 L416.49,514.44 L415.80,515.81Z" stroke-width="2.4" fill="#fff" />
<path d="M418.54,517.27 L417.89,518.42 L417.19,519.55 L416.44,520.63 L415.65,521.67 L414.82,522.65 L413.95,523.58 L413.06,524.46 L412.13,525.27 L411.19,526.01 L410.22,526.68 L409.24,527.27 L408.26,527.79 L407.27,528.23 L406.28,528.59 L405.29,528.86 L404.32,529.05 L403.36,529.15 L402.43,529.17 L401.52,529.10 L400.63,528.94 L399.78,528.70 L398.97,528.37 L398.20,527.96 L397.48,527.47 L396.80,526.90 L396.17,526.26 L395.61,525.54 L395.10,524.76 L394.64,523.91 L394.26,522.99 L393.93,522.03 L393.68,521.01 L393.49,519.94 L393.36,518.83 L393.31,517.69 L393.33,516.51 L393.41,515.31 L393.57,514.09 L393.79,512.86 L394.08,511.62 L394.43,510.38 L394.85,509.15 L395.33,507.92 L395.87,506.72 L396.46,505.53 L397.11,504.38 L397.81,503.25 L398.56,502.17 L399.35,501.13 L400.18,500.15 L401.05,499.22 L401.94,498.34 L402.87,497.53 L403.81,496.79 L404.78,496.12 L405.76,495.53 L406.74,495.01 L407.73,494.57 L408.72,494.21 L409.71,493.94 L410.68,493.75 L411.64,493.65 L412.57,493.63 L413.48,493.70 L414.37,493.86 L415.22,494.10 L416.03,494.43 L416.80,494.84 L417.52,495.33 L418.20,495.90 L418.83,496.54 L419.39,497.26 L419.90,498.04 L420.36,498.89 L420.74,499.81 L421.07,500.77 L421.32,501.79 L421.51,502.86 L421.64,503.97 L421.69,505.11 L421.67,506.29 L421.59,507.49 L421.43,508.71 L421.21,509.94 L420.92,511.18 L420.57,512.42 L420.15,513.65 L419.67,514.88 L419.13,516.08 L418.54,517.27Z" stroke-width="2.2" fill="#fff" />
<path d="M413.39,515.01 L412.89,516.03 L412.34,517.03 L411.77,517.99 L411.16,518.92 L410.52,519.80 L409.86,520.63 L409.17,521.40 L408.47,522.12 L407.76,522.78 L407.04,523.36 L406.31,523.88 L405.59,524.32 L404.87,524.68 L404.17,524.97 L403.47,525.17 L402.80,525.29 L402.15,525.33 L401.52,525.28 L400.93,525.15 L400.37,524.94 L399.85,524.65 L399.37,524.28 L398.93,523.83 L398.54,523.31 L398.20,522.71 L397.91,522.05 L397.68,521.33 L397.49,520.54 L397.37,519.71 L397.30,518.82 L397.28,517.89 L397.33,516.93 L397.43,515.93 L397.58,514.90 L397.79,513.86 L398.06,512.81 L398.37,511.74 L398.74,510.68 L399.15,509.63 L399.61,508.59 L400.11,507.57 L400.66,506.57 L401.23,505.61 L401.84,504.68 L402.48,503.80 L403.14,502.97 L403.83,502.20 L404.53,501.48 L405.24,500.82 L405.96,500.24 L406.69,499.72 L407.41,499.28 L408.13,498.92 L408.83,498.63 L409.53,498.43 L410.20,498.31 L410.85,498.27 L411.48,498.32 L412.07,498.45 L412.63,498.66 L413.15,498.95 L413.63,499.32 L414.07,499.77 L414.46,500.29 L414.80,500.89 L415.09,501.55 L415.32,502.27 L415.51,503.06 L415.63,503.89 L415.70,504.78 L415.72,505.71 L415.67,506.67 L415.57,507.67 L415.42,508.70 L415.21,509.74 L414.94,510.79 L414.63,511.86 L414.26,512.92 L413.85,513.97 L413.39,515.01Z" stroke-width="1.5" fill="#fff" />
<path d="M417.89,517.31 L417.39,518.33 L416.84,519.33 L416.27,520.29 L415.66,521.22 L415.02,522.10 L414.36,522.93 L413.67,523.70 L412.97,524.42 L412.26,525.08 L411.54,525.66 L410.81,526.18 L410.09,526.62 L409.37,526.98 L408.67,527.27 L407.97,527.47 L407.30,527.59 L406.65,527.63 L406.02,527.58 L405.43,527.45 L404.87,527.24 L404.35,526.95 L403.87,526.58 L403.43,526.13 L403.04,525.61 L402.70,525.01 L402.41,524.35 L402.18,523.63 L401.99,522.84 L401.87,522.01 L401.80,521.12 L401.78,520.19 L401.83,519.23 L401.93,518.23 L402.08,517.20 L402.29,516.16 L402.56,515.11 L402.87,514.04 L403.24,512.98 L403.65,511.93 L404.11,510.89 L404.61,509.87 L405.16,508.87 L405.73,507.91 L406.34,506.98 L406.98,506.10 L407.64,505.27 L408.33,504.50 L409.03,503.78 L409.74,503.12 L410.46,502.54 L411.19,502.02 L411.91,501.58 L412.63,501.22 L413.33,500.93 L414.03,500.73 L414.70,500.61 L415.35,500.57 L415.98,500.62 L416.57,500.75 L417.13,500.96 L417.65,501.25 L418.13,501.62 L418.57,502.07 L418.96,502.59 L419.30,503.19 L419.59,503.85 L419.82,504.57 L420.01,505.36 L420.13,506.19 L420.20,507.08 L420.22,508.01 L420.17,508.97 L420.07,509.97 L419.92,511.00 L419.71,512.04 L419.44,513.09 L419.13,514.16 L418.76,515.22 L418.35,516.27 L417.89,517.31Z" stroke-width="1.5" fill="#fff" />
<path d="M422.69,519.61 L422.19,520.63 L421.64,521.63 L421.07,522.59 L420.46,523.52 L419.82,524.40 L419.16,525.23 L418.47,526.00 L417.77,526.72 L417.06,527.38 L416.34,527.96 L415.61,528.48 L414.89,528.92 L414.17,529.28 L413.47,529.57 L412.77,529.77 L412.10,529.89 L411.45,529.93 L410.82,529.88 L410.23,529.75 L409.67,529.54 L409.15,529.25 L408.67,528.88 L408.23,528.43 L407.84,527.91 L407.50,527.31 L407.21,526.65 L406.98,525.93 L406.79,525.14 L406.67,524.31 L406.60,523.42 L406.58,522.49 L406.63,521.53 L406.73,520.53 L406.88,519.50 L407.09,518.46 L407.36,517.41 L407.67,516.34 L408.04,515.28 L408.45,514.23 L408.91,513.19 L409.41,512.17 L409.96,511.17 L410.53,510.21 L411.14,509.28 L411.78,508.40 L412.44,507.57 L413.13,506.80 L413.83,506.08 L414.54,505.42 L415.26,504.84 L415.99,504.32 L416.71,503.88 L417.43,503.52 L418.13,503.23 L418.83,503.03 L419.50,502.91 L420.15,502.87 L420.78,502.92 L421.37,503.05 L421.93,503.26 L422.45,503.55 L422.93,503.92 L423.37,504.37 L423.76,504.89 L424.10,505.49 L424.39,506.15 L424.62,506.87 L424.81,507.66 L424.93,508.49 L425.00,509.38 L425.02,510.31 L424.97,511.27 L424.87,512.27 L424.72,513.30 L424.51,514.34 L424.24,515.39 L423.93,516.46 L423.56,517.52 L423.15,518.57 L422.69,519.61Z" stroke-width="1.5" fill="#fff" />
<path d="M428.39,521.81 L427.89,522.83 L427.34,523.83 L426.77,524.79 L426.16,525.72 L425.52,526.60 L424.86,527.43 L424.17,528.20 L423.47,528.92 L422.76,529.58 L422.04,530.16 L421.31,530.68 L420.59,531.12 L419.87,531.48 L419.17,531.77 L418.47,531.97 L417.80,532.09 L417.15,532.13 L416.52,532.08 L415.93,531.95 L415.37,531.74 L414.85,531.45 L414.37,531.08 L413.93,530.63 L413.54,530.11 L413.20,529.51 L412.91,528.85 L412.68,528.13 L412.49,527.34 L412.37,526.51 L412.30,525.62 L412.28,524.69 L412.33,523.73 L412.43,522.73 L412.58,521.70 L412.79,520.66 L413.06,519.61 L413.37,518.54 L413.74,517.48 L414.15,516.43 L414.61,515.39 L415.11,514.37 L415.66,513.37 L416.23,512.41 L416.84,511.48 L417.48,510.60 L418.14,509.77 L418.83,509.00 L419.53,508.28 L420.24,507.62 L420.96,507.04 L421.69,506.52 L422.41,506.08 L423.13,505.72 L423.83,505.43 L424.53,505.23 L425.20,505.11 L425.85,505.07 L426.48,505.12 L427.07,505.25 L427.63,505.46 L428.15,505.75 L428.63,506.12 L429.07,506.57 L429.46,507.09 L429.80,507.69 L430.09,508.35 L430.32,509.07 L430.51,509.86 L430.63,510.69 L430.70,511.58 L430.72,512.51 L430.67,513.47 L430.57,514.47 L430.42,515.50 L430.21,516.54 L429.94,517.59 L429.63,518.66 L429.26,519.72 L428.85,520.77 L428.39,521.81Z" stroke-width="2.4" fill="#fff" />
<path d="M415.92,526.73 L415.77,525.97 L415.69,525.14 L415.69,524.24 L415.75,523.28 L415.89,522.28 L416.10,521.25 L416.38,520.19 L416.72,519.12 L417.13,518.06 L417.59,517.00 L418.10,515.97 L418.66,514.98 L419.25,514.03 L419.89,513.14 L420.54,512.31 L421.22,511.56 L421.91,510.90 L422.60,510.32 L423.29,509.84 L423.97,509.47 L424.63,509.20 L425.26,509.04 L425.87,508.99 L426.43,509.06 L426.95,509.23 L427.42,509.51 L427.83,509.91 L428.18,510.40 L428.46,510.99 L428.68,511.67" stroke-width="1.1" fill="none" />
<path d="M358.00,408.70 L389.30,397.70 L428.00,419.70 L418.70,427.70 L480.00,463.00 L480.70,474.30 L440.00,465.00 L358.00,418.70Z" fill="#fff" stroke="none"/>
<polyline points="358.0,418.7 358.0,408.7 370.7,401.3 389.3,397.7 428.0,419.7" stroke-width="2.5" fill="none"/>
<polyline points="358.0,418.7 440.0,465.0 480.7,474.3 480.7,463.7 418.7,427.7" stroke-width="2.5" fill="none"/>
<line x1="360.0" y1="411.3" x2="403.3" y2="434.7" stroke-width="1.4"/>
<line x1="408.0" y1="436.3" x2="440.0" y2="455.7" stroke-width="1.4"/>
<line x1="403.3" y1="435.0" x2="419.3" y2="426.5" stroke-width="2.5"/>
<line x1="419.3" y1="426.5" x2="427.5" y2="420.5" stroke-width="1.4"/>
<line x1="440.0" y1="455.7" x2="440.0" y2="465.0" stroke-width="1.4"/>
<line x1="440.0" y1="456.3" x2="480.0" y2="463.0" stroke-width="1.4"/>
<path d="M415.00,548.70 L436.30,537.30 L481.70,563.30 L481.70,574.00 L439.70,563.30Z" fill="#fff" stroke="none"/>
<polyline points="436.3,537.3 481.7,563.3 481.7,574.0 439.7,563.3 415.0,548.7" stroke-width="2.5" fill="none"/>
<line x1="423.7" y1="544.7" x2="439.7" y2="554.0" stroke-width="1.4"/>
<line x1="440.3" y1="555.3" x2="440.3" y2="564.0" stroke-width="1.4"/>
<line x1="440.3" y1="555.3" x2="481.7" y2="562.7" stroke-width="1.4"/>
<text transform="translate(0,278.5) scale(1,1.045)" class="l">Gegenstück</text>
<text transform="translate(0,315.3) scale(1,1.045)" class="l">mit Nagelschraube</text>
<text transform="translate(89.6,495) scale(1,1.045)" class="l">Gehäuse</text>
</g></svg></body></html>
